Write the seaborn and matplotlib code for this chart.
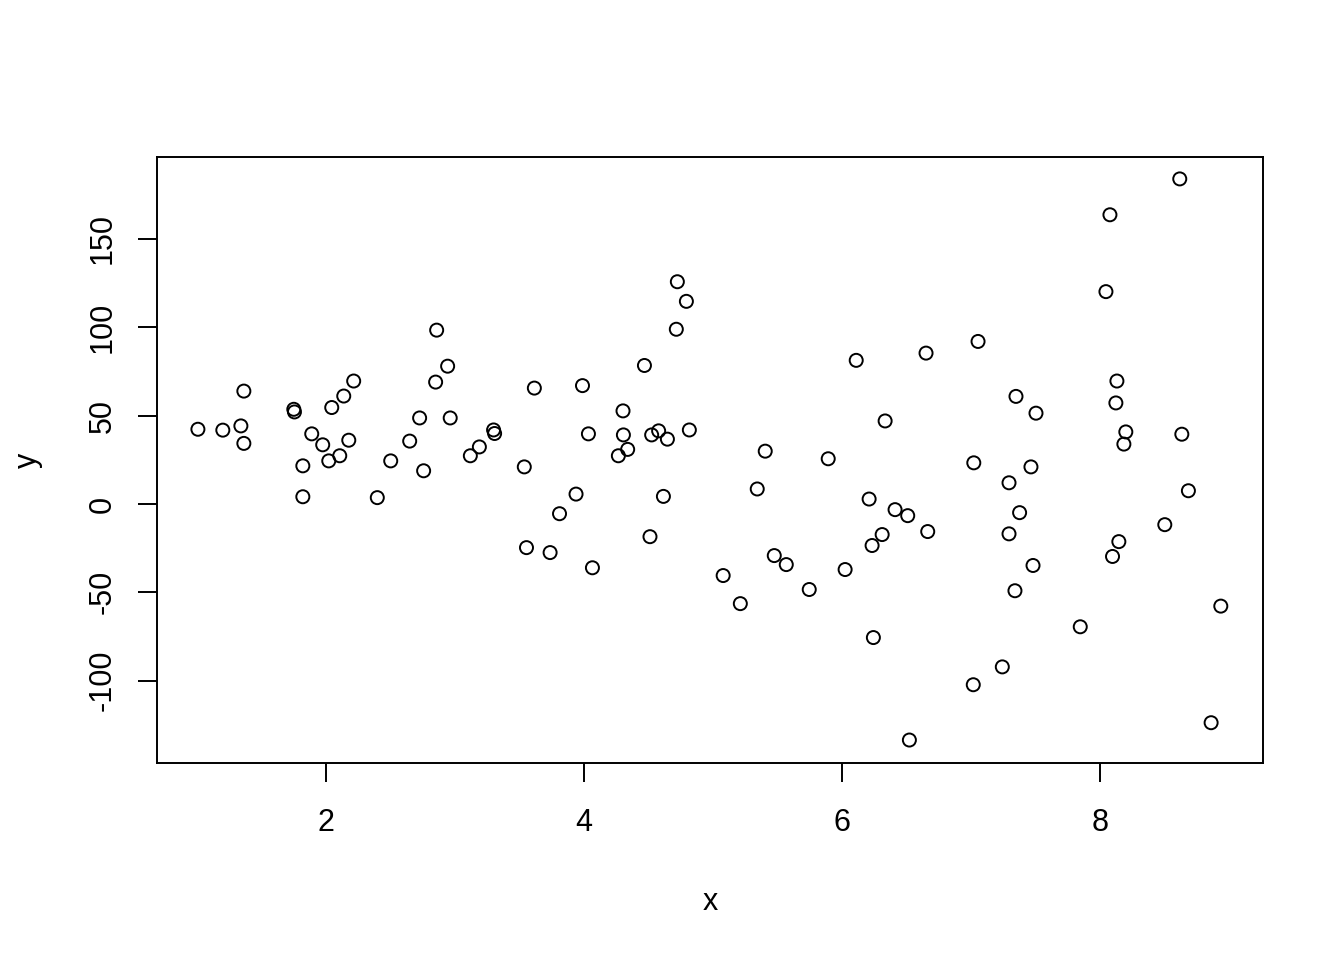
import numpy as np
import pandas as pd
import seaborn as sns
import matplotlib
matplotlib.use("Agg")
import matplotlib.pyplot as plt


# values
x = [1.007, 1.200, 1.340, 1.363, 1.363, 1.750, 1.755, 1.889, 1.974, 1.820,
     1.820, 2.021, 2.044, 2.106, 2.137, 2.176, 2.214, 2.397, 2.501, 2.648,
     2.725, 2.756, 2.857, 2.849, 2.942, 2.962, 3.118, 3.188, 3.298, 3.306,
     3.536, 3.614, 3.553, 3.736, 3.809, 3.937, 3.987, 4.033, 4.064, 4.265,
     4.301, 4.304, 4.337, 4.467, 4.510, 4.523, 4.577, 4.614, 4.645, 4.722,
     4.714, 4.792, 4.815, 5.077, 5.210, 5.341, 5.403, 5.473, 5.566, 5.744,
     5.891, 6.022, 6.108, 6.208, 6.231, 6.241, 6.309, 6.332, 6.409, 6.507,
     6.520, 6.649, 6.662, 7.015, 7.019, 7.052, 7.240, 7.292, 7.292, 7.338,
     7.346, 7.374, 7.462, 7.478, 7.501, 7.844, 8.043, 8.074, 8.094, 8.120,
     8.128, 8.143, 8.182, 8.197, 8.499, 8.615, 8.631, 8.682, 8.858, 8.933]

y = [42.3, 41.8, 44.2, 63.9, 34.3, 53.6, 52.1, 39.7, 33.5, 21.6,
     4.1, 24.4, 54.6, 27.3, 61.1, 36.1, 69.6, 3.6, 24.4, 35.6,
     48.7, 18.8, 98.4, 69.0, 78.0, 48.7, 27.3, 32.3, 41.9, 39.9,
     21.0, 65.6, -24.7, -27.5, -5.5, 5.6, 67.0, 39.7, -36.1, 27.3,
     52.7, 39.1, 30.9, 78.4, -18.5, 39.1, 41.4, 4.3, 36.7, 125.8,
     98.9, 114.7, 41.9, -40.5, -56.4, 8.5, 29.9, -29.2, -34.3, -48.4,
     25.6, -37.1, 81.3, 2.8, -23.5, -75.6, -17.3, 47.0, -3.2, -6.6,
     -133.6, 85.4, -15.6, -102.3, 23.3, 92.0, -92.2, 12.0, -16.9, -49.1,
     60.9, -4.9, 21.0, -34.8, 51.4, -69.5, 120.2, 163.7, -29.7, 57.2,
     69.6, -21.3, 33.9, 40.8, -11.7, 184.0, 39.5, 7.5, -123.8, -57.8]

xticks = [2, 4, 6, 8]
yticks = [-100, -50, 0, 50, 100, 150]

df = pd.DataFrame({"x": x, "y": y})

sns.set_style("white")
plt.rcParams["font.family"] = ["Liberation Sans", "DejaVu Sans"]

fig = plt.figure(figsize=(13.44, 9.6), dpi=100)
ax = fig.add_axes([157 / 1344, 1 - 763 / 960, 1106 / 1344, 606 / 960])

sns.scatterplot(data=df, x="x", y="y", ax=ax, s=88, marker="o",
                facecolor="none", edgecolor="black", linewidth=1.4)

ax.set_xlim(0.690, 9.260)
ax.set_ylim(-146.6, 196.4)
ax.set_xticks(xticks)
ax.set_yticks(yticks)
ax.set_xticklabels([str(v) for v in xticks])
ax.set_yticklabels([str(v) for v in yticks], rotation=90, va="center")

for sp in ax.spines.values():
    sp.set_visible(True)
    sp.set_color("black")
    sp.set_linewidth(1.4)

ax.tick_params(axis="both", direction="out", length=13.5, width=1.4,
               color="black", labelsize=22, labelcolor="black")
ax.tick_params(axis="x", pad=19, bottom=True)
ax.tick_params(axis="y", pad=15, left=True)

ax.set_xlabel("x", fontsize=22, va="center", color="black")
ax.set_ylabel("y", fontsize=22, va="center", color="black")
ax.xaxis.set_label_coords(0.5, (763 - 902) / 606)
ax.yaxis.set_label_coords((28 - 157) / 1106, 0.5)

fig.savefig("out.png", dpi=100, facecolor="white")
